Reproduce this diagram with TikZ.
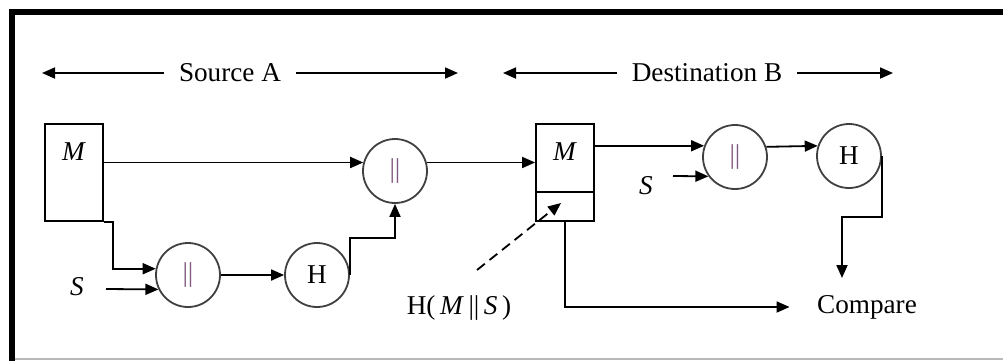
\documentclass[tikz,border=0pt]{standalone}
\usepackage{fontspec}
\setmainfont{Liberation Serif}
\usetikzlibrary{arrows.meta,positioning}

\begin{document}
\begin{tikzpicture}[x=0.5pt, y=-0.5pt, >={Triangle[length=6.5pt,width=5.5pt]}, line width=0.9pt,
  every node/.style={font=\fontsize{13.6}{16}\selectfont},
  msgbox/.style={draw, minimum width=29pt, minimum height=48.5pt, inner sep=0pt},
  opcirc/.style={circle, draw=black!75, minimum size=32pt, inner sep=0pt},
  span/.style={inner xsep=7pt}]
  % Define colors
  \colorlet{barcol}{violet!30!gray}
  \colorlet{edgecol}{gray!55}

  \useasboundingbox (0,0) rectangle (1003,361);

  % Frame
  \draw[line width=3pt] (12,361) -- (12,12) -- (1003,12);
  \draw[edgecol, line width=0.6pt] (15,359) -- (1003,359);

  % Spans
  \node[span] (srcA) at (230,73) {Source A};
  \coordinate (srcAL) at (42,73);
  \coordinate (srcAR) at (458,73);
  \draw[->] (srcA.west) -- (srcAL);
  \draw[->] (srcA.east) -- (srcAR);

  \node[span] (dstB) at (707,73) {Destination B};
  \coordinate (dstBL) at (503,73);
  \coordinate (dstBR) at (893,73);
  \draw[->] (dstB.west) -- (dstBL);
  \draw[->] (dstB.east) -- (dstBR);

  % Source side
  \node[msgbox] (srcbox) at (74,172.5) {};
  \node (srcM) at (74,152) {\textit{M}};
  \node[opcirc] (catA) at (395,171) {\textcolor{barcol}{||}};
  \node[opcirc] (catB) at (188,275) {\textcolor{barcol}{||}};
  \node[opcirc] (hashA) at (317,275) {H};
  \node (sA) at (77,287) {\textit{S}};
  \coordinate (sAin) at (106,289);

  \draw[->] (srcbox.east |- catA.165) -- (catA.165);
  \draw[->] (srcbox.south east) -- ++(9,0) |- (catB.169);
  \draw[->] (sAin) -- (catB.206);
  \draw[->] (catB.east) -- (hashA.west);
  \draw[->] (hashA.east) -- ++(0,-37) -| (catA.south);

  % Destination side
  \node[msgbox] (dstbox) at (565,172.5) {};
  \draw ([yshift=15pt]dstbox.south west) -- ([yshift=15pt]dstbox.south east);
  \node (dstM) at (565,152) {\textit{M}};
  \node[opcirc] (catC) at (735,157) {\textcolor{barcol}{||}};
  \node[opcirc] (hashB) at (849,156) {H};
  \node (sB) at (646,186) {\textit{S}};
  \coordinate (sBin) at (673,176);
  \node (cmp) at (867,307) {Compare};
  \coordinate (cmpin) at (842,278);

  \draw[->] (catA.15) -- (catA.15 -| dstbox.west);
  \draw[->] (dstbox.east |- catC.160) -- (catC.160);
  \draw[->] (sBin) -- (catC.216);
  \draw[->] (catC.18) -- (hashB.162);
  \draw[->] (hashB.east) -- ++(0,61) -| (cmpin);
  \draw[->] (dstbox.south) |- ([xshift=-10pt]cmp.west);

  % Received MAC
  \node (hms) at (459,308) {H(\,\textit{M}\,||\,\textit{S}\,)};
  \coordinate (hmsTail) at (477,270);
  \coordinate (mac) at (561,203);
  \draw[->, dashed, dash pattern=on 5pt off 3pt] (hmsTail) -- (mac);
\end{tikzpicture}
\end{document}
